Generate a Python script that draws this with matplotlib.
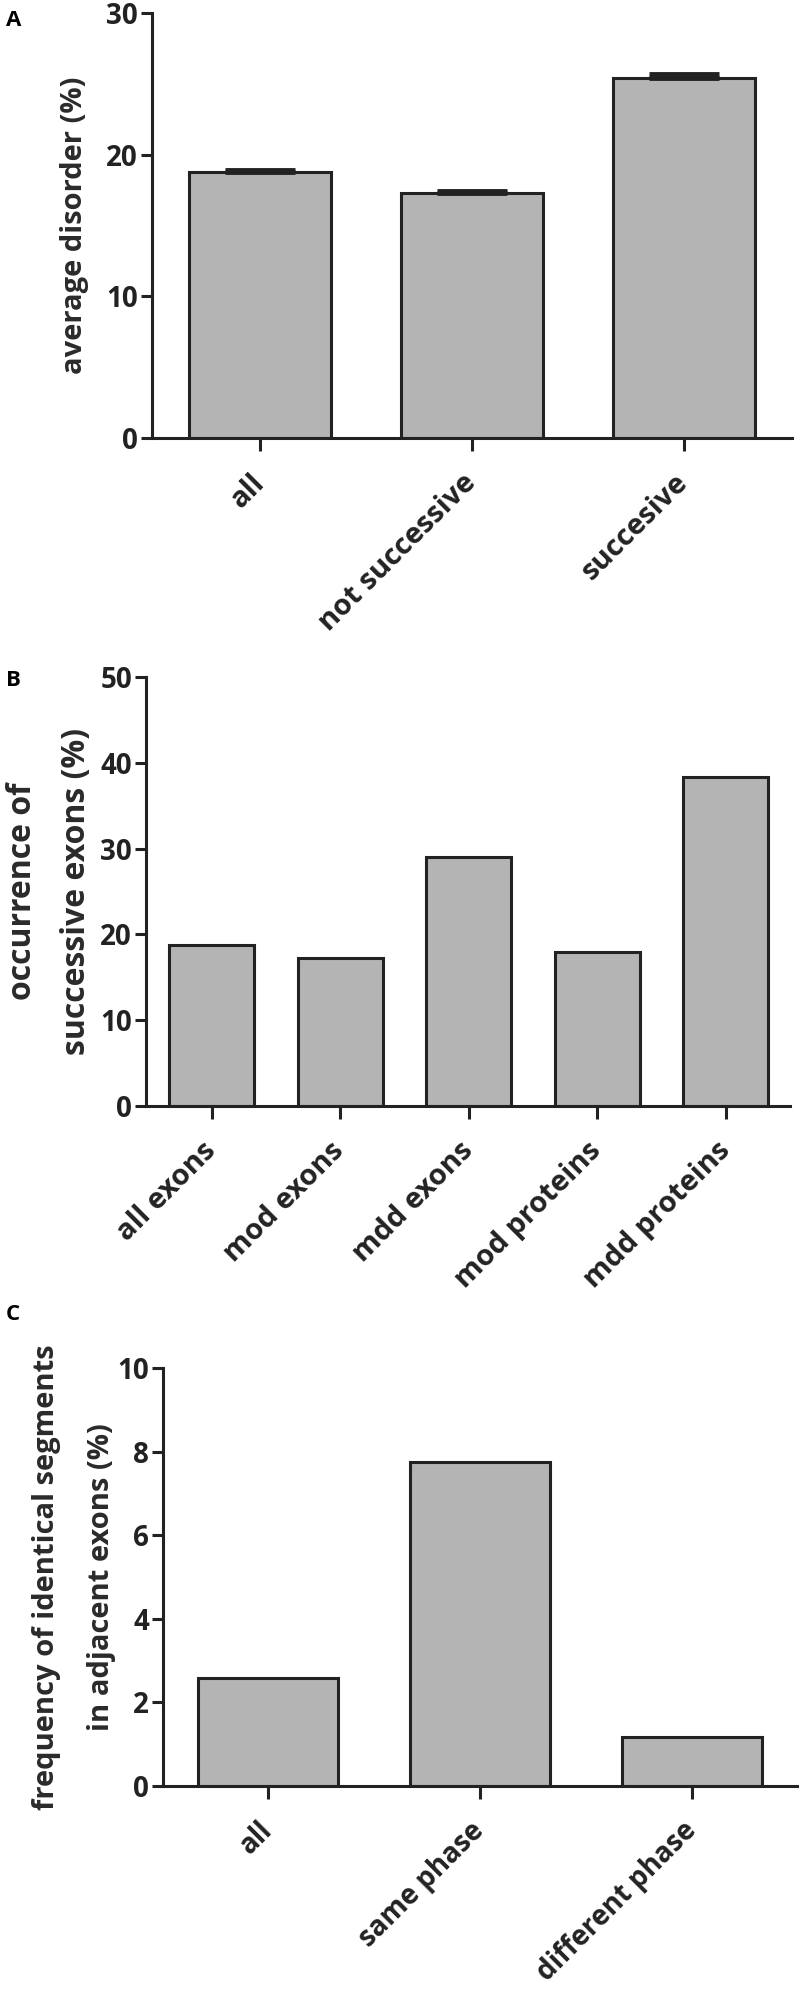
import matplotlib
matplotlib.use("Agg")
import matplotlib.pyplot as plt

# ---------------- data ----------------
a_categories = ["all", "not successive", "succesive"]
a_values = [18.8, 17.3, 25.4]
a_errors = [0.12, 0.1, 0.3]

b_categories = ["all exons", "mod exons", "mdd exons", "mod proteins", "mdd proteins"]
b_values = [18.8, 17.2, 29.0, 17.9, 38.3]

c_categories = ["all", "same phase", "different phase"]
c_values = [2.58, 7.75, 1.17]

a_yticks = [0, 10, 20, 30]
b_yticks = [0, 10, 20, 30, 40, 50]
c_yticks = [0, 2, 4, 6, 8, 10]

# ---------------- style ----------------
label_font = ["Open Sans", "DejaVu Sans"]
num_font = ["Open Sans", "DejaVu Sans"]

DARK = "#222222"
FILL = "#b4b4b4"
LW = 2.2

W, H = 800, 1991
fig = plt.figure(figsize=(W / 100, H / 100), dpi=100)


def make_axes(left, right, top, bottom):
    return fig.add_axes([left / W, 1 - bottom / H, (right - left) / W, (bottom - top) / H])


def style(ax, yticks, ylim, xlim, cats, ylabel, ylabel_x, ylabel_size, xlabel_size,
          linespacing=1.4):
    ax.set_ylim(*ylim)
    ax.set_xlim(*xlim)
    for s in ["top", "right"]:
        ax.spines[s].set_visible(False)
    for s in ["left", "bottom"]:
        ax.spines[s].set_linewidth(LW)
        ax.spines[s].set_color(DARK)
    ax.set_yticks(yticks)
    ax.set_yticklabels([str(t) for t in yticks], family=num_font, fontweight="bold",
                       fontsize=20, color=DARK)
    ax.set_xticks(range(len(cats)))
    ax.set_xticklabels(cats, rotation=45, ha="right", va="center", rotation_mode="anchor",
                       family=label_font, fontweight="bold", fontsize=xlabel_size, color=DARK)
    ax.tick_params(axis="y", direction="out", length=8, width=LW, color=DARK, pad=2)
    ax.tick_params(axis="x", direction="out", length=9, width=LW, color=DARK, pad=20)
    ax.set_ylabel(ylabel, family=label_font, fontweight="bold", fontsize=ylabel_size,
                  color="#2a2a2a", linespacing=linespacing)
    ax.yaxis.set_label_coords(ylabel_x, 0.5)


# ---------------- panel A ----------------
axA = make_axes(152, 792, 13, 438)
axA.bar(range(len(a_categories)), a_values, width=0.67, color=FILL, edgecolor=DARK,
        linewidth=LW, zorder=2)
axA.errorbar(range(len(a_categories)), a_values, yerr=[[0] * len(a_errors), a_errors],
             fmt="none", ecolor=DARK, elinewidth=2.5, capsize=25, capthick=3.5, zorder=3)
style(axA, a_yticks, (0, 30), (-0.51, 2.51), a_categories, "average disorder (%)", -0.098,
      21, 21)

# ---------------- panel B ----------------
axB = make_axes(146, 790, 677, 1106)
axB.bar(range(len(b_categories)), b_values, width=0.66, color=FILL, edgecolor=DARK,
        linewidth=LW, zorder=2)
style(axB, b_yticks, (0, 50), (-0.51, 4.50), b_categories,
      "occurrence of\nsuccessive exons (%)", -0.082, 23, 21, linespacing=1.85)

# ---------------- panel C ----------------
axC = make_axes(163, 797, 1368, 1786)
axC.bar(range(len(c_categories)), c_values, width=0.66, color=FILL, edgecolor=DARK,
        linewidth=LW, zorder=2)
style(axC, c_yticks, (0, 10), (-0.495, 2.495), c_categories,
      "frequency of identical segments\nin adjacent exons (%)", -0.074, 21, 20,
      linespacing=2.2)

# panel letters
for letter, y in [("A", 20), ("B", 680), ("C", 1314)]:
    fig.text(6 / W, 1 - y / H, letter, family=label_font, fontweight="bold", fontsize=16,
             color="black", ha="left", va="center")

fig.savefig("out.png", dpi=100)
